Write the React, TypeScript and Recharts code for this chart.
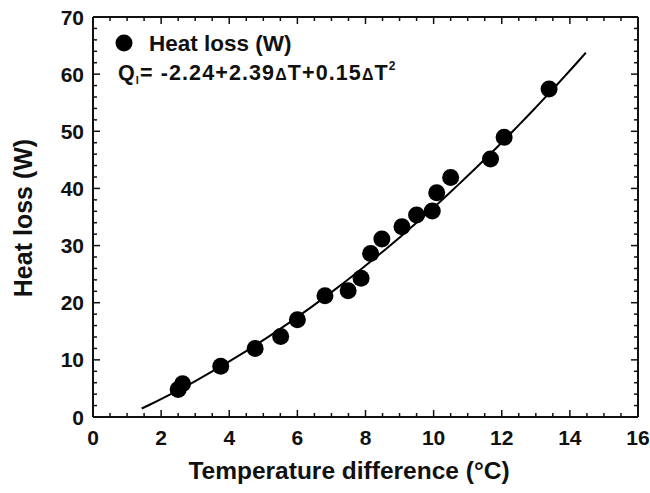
import { ComposedChart, Scatter, Line, XAxis, YAxis, Legend, ReferenceLine } from 'recharts';

// measured points: temperature difference (°C) vs heat loss (W)
const deltaT = [2.5, 2.63, 3.75, 4.76, 5.51, 6.0, 6.81, 7.49, 7.87, 8.15, 8.48, 9.07, 9.5, 9.96, 10.09, 10.5, 11.67, 12.07, 13.39];
const heatLoss = [4.8, 5.8, 8.9, 12.0, 14.1, 17.0, 21.2, 22.1, 24.3, 28.6, 31.15, 33.3, 35.35, 36.05, 39.25, 41.9, 45.15, 48.95, 57.4];

// quadratic fit Q = c0 + c1*dT + c2*dT^2
const fitCoef = [-2.24, 2.39, 0.15];
const fitRange = [1.43, 14.47];

const xTicks = Array.from({ length: 33 }, (_, i) => i * 0.5);
const yTicks = Array.from({ length: 36 }, (_, i) => i * 2);

const W = 650;
const H = 493;
const PLOT_TOP = 17;
const PLOT_BOTTOM = 417;
const PLOT_LEFT = 93;
const PLOT_RIGHT = 638;
const FONT = '"Liberation Sans", Arial, sans-serif';
const INK = '#111';

const points = deltaT.map((t, i) => ({ t, q: heatLoss[i] }));

const fitCurve = (() => {
  const out = [];
  const steps = 60;
  for (let i = 0; i <= steps; i++) {
    const t = fitRange[0] + ((fitRange[1] - fitRange[0]) * i) / steps;
    out.push({ t, fit: fitCoef[0] + fitCoef[1] * t + fitCoef[2] * t * t });
  }
  return out;
})();

function XTick(props: any) {
  const { x, payload } = props;
  const v = payload.value;
  const major = v % 2 === 0;
  const len = major ? 7 : 4;
  return (
    <g>
      <line x1={x} x2={x} y1={PLOT_BOTTOM} y2={PLOT_BOTTOM - len} stroke={INK} strokeWidth={1.5} />
      <line x1={x} x2={x} y1={PLOT_TOP} y2={PLOT_TOP + len} stroke={INK} strokeWidth={1.5} />
      {major && (
        <text x={x} y={PLOT_BOTTOM + 28} textAnchor="middle" fontSize={21} fontWeight="bold" fontFamily={FONT} fill={INK}>
          {v}
        </text>
      )}
    </g>
  );
}

function YTick(props: any) {
  const { y, payload } = props;
  const v = payload.value;
  const major = v % 10 === 0;
  const len = major ? 7 : 4;
  return (
    <g>
      <line x1={PLOT_LEFT} x2={PLOT_LEFT + len} y1={y} y2={y} stroke={INK} strokeWidth={1.5} />
      <line x1={PLOT_RIGHT} x2={PLOT_RIGHT - len} y1={y} y2={y} stroke={INK} strokeWidth={1.5} />
      {major && (
        <text x={PLOT_LEFT - 9} y={y + 7.5} textAnchor="end" fontSize={21} fontWeight="bold" fontFamily={FONT} fill={INK}>
          {v}
        </text>
      )}
    </g>
  );
}

function Dot(props: any) {
  return <circle cx={props.cx} cy={props.cy} r={8.5} fill="#000" />;
}

// legend: marker + series name, then the fit equation underneath
function LegendBox() {
  return (
    <svg width={420} height={95} style={{ display: 'block' }}>
      <g fontFamily={FONT} fontWeight="bold" fill={INK}>
        <circle cx={124} cy={43} r={8.5} fill="#000" />
        <text x={149} y={51} fontSize={22.5}>Heat loss (W)</text>
        <text x={118} y={80} fontSize={21.5} letterSpacing={1.1}>
          Q<tspan fontSize={11} dy={4}>l</tspan>
          <tspan dy={-4}>= {fitCoef[0]}+{fitCoef[1]}</tspan>
          <tspan fontSize={16}>Δ</tspan>T+{fitCoef[2]}
          <tspan fontSize={16}>Δ</tspan>T
          <tspan fontSize={12} dy={-10}>2</tspan>
        </text>
      </g>
    </svg>
  );
}

export default function App() {
  return (
    <div style={{ position: 'absolute', left: 0, top: 0, width: W, height: H, background: '#fff' }}>
      <ComposedChart
        width={W}
        height={H}
        margin={{ top: PLOT_TOP, right: W - PLOT_RIGHT, bottom: H - PLOT_BOTTOM - 30, left: 0 }}
      >
        <XAxis
          type="number"
          dataKey="t"
          domain={[0, 16]}
          ticks={xTicks}
          interval={0}
          tick={<XTick />}
          tickLine={false}
          height={30}
          axisLine={{ stroke: INK, strokeWidth: 2 }}
          allowDataOverflow
        />
        <YAxis
          type="number"
          domain={[0, 70]}
          ticks={yTicks}
          interval={0}
          tick={<YTick />}
          tickLine={false}
          width={PLOT_LEFT}
          axisLine={{ stroke: INK, strokeWidth: 2 }}
          allowDataOverflow
        />
        <ReferenceLine y={70} stroke={INK} strokeWidth={2} />
        <ReferenceLine x={16} stroke={INK} strokeWidth={2} />
        <Line
          data={fitCurve}
          dataKey="fit"
          type="monotone"
          stroke="#000"
          strokeWidth={2}
          dot={false}
          activeDot={false}
          isAnimationActive={false}
        />
        <Scatter data={points} dataKey="q" shape={<Dot />} isAnimationActive={false} />
        <Legend
          content={<LegendBox />}
          layout="vertical"
          align="center"
          verticalAlign="middle"
          wrapperStyle={{ left: 0, top: 0, width: 420 }}
        />
      </ComposedChart>
      <div
        style={{
          position: 'absolute',
          left: 0,
          width: 698,
          top: 459,
          lineHeight: 1,
          textAlign: 'center',
          fontFamily: FONT,
          fontWeight: 'bold',
          fontSize: 24.5,
          color: INK,
        }}
      >
        Temperature difference (°C)
      </div>
      <div
        style={{
          position: 'absolute',
          left: 22.5,
          top: 218,
          lineHeight: 1,
          transform: 'translate(-50%, -50%) rotate(-90deg)',
          whiteSpace: 'nowrap',
          fontFamily: FONT,
          fontWeight: 'bold',
          fontSize: 25,
          color: INK,
        }}
      >
        Heat loss (W)
      </div>
    </div>
  );
}
